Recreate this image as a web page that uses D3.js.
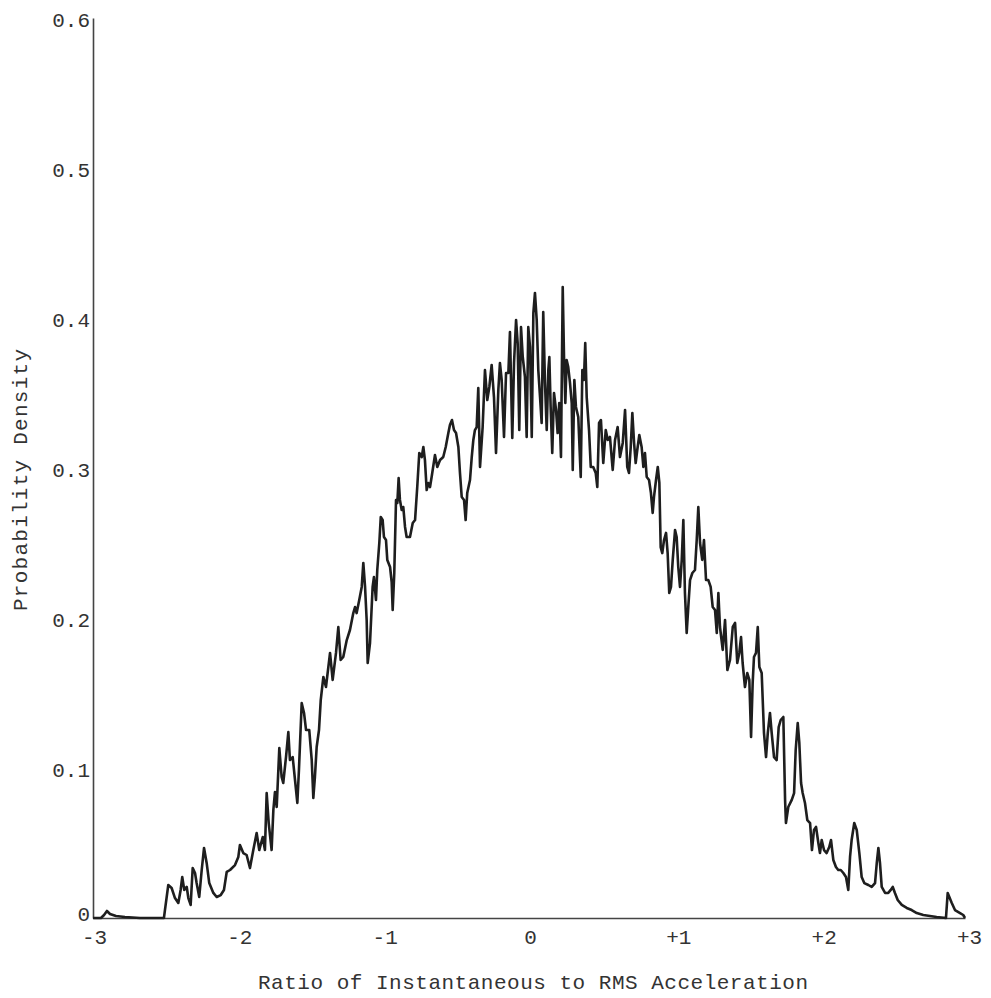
<!DOCTYPE html>
<html>
<head>
<meta charset="utf-8">
<script src="https://cdn.jsdelivr.net/npm/d3@7"></script>
<style>
  html, body { margin: 0; padding: 0; background: #ffffff; }
  svg { display: block; }
  text { font-family: "Liberation Mono", "DejaVu Sans Mono", monospace; fill: #333; }
</style>
</head>
<body>
<svg id="chart" width="991" height="998"></svg>
<script>
// Ratio of instantaneous to RMS acceleration (x) and probability density (y)
const ratioValues = [
  -3.000, -2.945, -2.924, -2.904, -2.883, -2.842, -2.780, -2.677, -2.512,
  -2.505, -2.482, -2.459, -2.436, -2.413, -2.397, -2.386, -2.372, -2.355, -2.344,
  -2.328, -2.314, -2.298, -2.287, -2.269, -2.252, -2.236, -2.218, -2.200, -2.172,
  -2.149, -2.121, -2.099, -2.080, -2.057, -2.023, -2.000, -1.989, -1.966, -1.943,
  -1.920, -1.897, -1.874, -1.856, -1.832, -1.817, -1.805, -1.791, -1.771, -1.759,
  -1.748, -1.736, -1.718, -1.702, -1.691, -1.672, -1.656, -1.645, -1.626, -1.610,
  -1.594, -1.583, -1.564, -1.548, -1.534, -1.512, -1.495, -1.484, -1.473, -1.461,
  -1.445, -1.433,
  -1.415, -1.397, -1.369, -1.351, -1.328, -1.312, -1.296, -1.278, -1.254, -1.232,
  -1.209, -1.197, -1.186, -1.168, -1.151, -1.140, -1.128, -1.117, -1.110, -1.094,
  -1.076, -1.067, -1.053, -1.044, -1.030, -1.020, -1.007, -0.998, -0.984, -0.975,
  -0.956, -0.945, -0.938, -0.927, -0.915, -0.906, -0.897, -0.888, -0.876, -0.865,
  -0.853, -0.842, -0.819, -0.800, -0.784, -0.769, -0.755, -0.738, -0.727, -0.716,
  -0.704, -0.693, -0.681, -0.670, -0.647, -0.631, -0.612, -0.590, -0.573, -0.555,
  -0.544, -0.530, -0.516, -0.502, -0.486, -0.475, -0.463, -0.447, -0.436, -0.425,
  -0.406, -0.394, -0.383, -0.372, -0.360,
  -0.349, -0.337, -0.319, -0.303, -0.287, -0.273, -0.257, -0.241, -0.227, -0.211,
  -0.200, -0.188, -0.172, -0.158, -0.142, -0.131, -0.115, -0.103, -0.089, -0.078,
  -0.067, -0.055, -0.043, -0.028, -0.016, -0.005, 0.007, 0.019, 0.030, 0.041,
  0.053, 0.064, 0.076, 0.087, 0.098, 0.110, 0.122, 0.133, 0.140, 0.149,
  0.160, 0.172, 0.186, 0.197, 0.208, 0.220, 0.232, 0.241, 0.250, 0.259,
  0.270, 0.282, 0.294, 0.301, 0.312, 0.323, 0.339, 0.356, 0.367, 0.378,
  0.387, 0.397, 0.413, 0.425, 0.442, 0.459, 0.470, 0.482, 0.495, 0.511,
  0.528, 0.542, 0.557, 0.576, 0.592, 0.610, 0.626, 0.645, 0.661, 0.676,
  0.688, 0.700, 0.711, 0.723, 0.734, 0.745, 0.759, 0.775, 0.787, 0.798,
  0.810, 0.826, 0.839, 0.851, 0.860, 0.874, 0.886, 0.897, 0.906, 0.917,
  0.929, 0.943, 0.954, 0.965, 0.977, 0.989, 1.005, 1.016, 1.027, 1.039,
  1.051, 1.062, 1.073, 1.085, 1.096, 1.108, 1.124, 1.142, 1.154, 1.165,
  1.177, 1.192, 1.204, 1.218, 1.234, 1.250, 1.264, 1.280, 1.292, 1.303,
  1.314, 1.333, 1.349, 1.365, 1.383, 1.402, 1.418, 1.433, 1.447, 1.459,
  1.470, 1.486, 1.502, 1.516, 1.528, 1.539, 1.548, 1.562, 1.574, 1.585,
  1.601, 1.617, 1.631, 1.643, 1.658, 1.670, 1.686, 1.704, 1.718, 1.732,
  1.750, 1.762, 1.768, 1.784, 1.808, 1.824, 1.835, 1.849, 1.860, 1.872,
  1.883, 1.899, 1.915, 1.934, 1.947, 1.961, 1.975, 1.991, 2.002, 2.014,
  2.030, 2.048, 2.066, 2.078, 2.094, 2.112, 2.128, 2.145, 2.163, 2.181,
  2.197, 2.209, 2.220, 2.238, 2.255, 2.273, 2.289, 2.307, 2.335, 2.358,
  2.381, 2.393, 2.404, 2.415, 2.427, 2.450, 2.472, 2.489, 2.503, 2.518,
  2.537, 2.565, 2.599, 2.633, 2.668, 2.713, 2.805, 2.869, 2.881, 2.909,
  2.931, 2.966, 2.988, 3.000
];
const densityValues = [
  0, 0, 0.0020, 0.0047, 0.0027, 0.0013, 0.0007, 0, 0,
  0.0053, 0.0220, 0.0200, 0.0133, 0.0100, 0.0187, 0.0273, 0.0187, 0.0207, 0.0133,
  0.0087, 0.0333, 0.0300, 0.0233, 0.0140, 0.0320, 0.0467, 0.0367, 0.0233, 0.0167,
  0.0140, 0.0153, 0.0187, 0.0307, 0.0320, 0.0353, 0.0407, 0.0487, 0.0433, 0.0420,
  0.0333, 0.0453, 0.0567, 0.0453, 0.0540, 0.0453, 0.0833, 0.0633, 0.0453, 0.0720,
  0.0840, 0.0740, 0.1133, 0.0940, 0.0900, 0.1073, 0.1240, 0.1053, 0.1073, 0.0920,
  0.0767, 0.0987, 0.1433, 0.1367, 0.1253, 0.1253, 0.1053, 0.0800, 0.0940, 0.1140,
  0.1253, 0.1453,
  0.1607, 0.1540, 0.1767, 0.1587, 0.1767, 0.1940, 0.1720, 0.1740, 0.1853, 0.1920,
  0.2033, 0.2073, 0.2033, 0.2120, 0.2207, 0.2367, 0.2207, 0.1987, 0.1700, 0.1833,
  0.2207, 0.2273, 0.2120, 0.2320, 0.2500, 0.2673, 0.2653, 0.2540, 0.2520, 0.2387,
  0.2340, 0.2240, 0.2053, 0.2300, 0.2787, 0.2767, 0.2933, 0.2787, 0.2720, 0.2740,
  0.2607, 0.2540, 0.2540, 0.2633, 0.2653, 0.2873, 0.3100, 0.3073, 0.3140, 0.3053,
  0.2853, 0.2900, 0.2873, 0.2940, 0.3087, 0.3007, 0.3053, 0.3073, 0.3140, 0.3233,
  0.3287, 0.3320, 0.3253, 0.3233, 0.3140, 0.2967, 0.2807, 0.2787, 0.2653, 0.2833,
  0.2920, 0.3073, 0.3187, 0.3253, 0.3273,
  0.3533, 0.3007, 0.3273, 0.3653, 0.3453, 0.3540, 0.3687, 0.3473, 0.3100, 0.3520,
  0.3700, 0.3587, 0.3207, 0.3633, 0.3633, 0.3907, 0.3200, 0.3700, 0.3987, 0.3833,
  0.3253, 0.3940, 0.3740, 0.3607, 0.3207, 0.3940, 0.3807, 0.3207, 0.4033, 0.4167,
  0.3987, 0.3653, 0.3473, 0.3300, 0.4040, 0.3567, 0.3253, 0.3653, 0.3740, 0.3407,
  0.3100, 0.3500, 0.3387, 0.3233, 0.3433, 0.3073, 0.4207, 0.3740, 0.3433, 0.3720,
  0.3673, 0.3567, 0.3433, 0.2987, 0.3587, 0.3407, 0.3340, 0.2940, 0.3653, 0.3587,
  0.3833, 0.3473, 0.3253, 0.3007, 0.3007, 0.2967, 0.2873, 0.3300, 0.3320, 0.3033,
  0.3253, 0.3187, 0.3207, 0.2987, 0.3187, 0.3273, 0.3073, 0.3167, 0.3387, 0.3007,
  0.2967, 0.3140, 0.3367, 0.3167, 0.3033, 0.3120, 0.3220, 0.3140, 0.3007, 0.3100,
  0.2940, 0.2920, 0.2833, 0.2700, 0.2807, 0.2920, 0.3007, 0.2900, 0.2473, 0.2433,
  0.2520, 0.2567, 0.2433, 0.2167, 0.2207, 0.2387, 0.2587, 0.2540, 0.2340, 0.2207,
  0.2387, 0.2653, 0.2167, 0.1900, 0.2073, 0.2253, 0.2300, 0.2320, 0.2520, 0.2740,
  0.2500, 0.2387, 0.2520, 0.2253, 0.2253, 0.2207, 0.2073, 0.2053, 0.1900, 0.2167,
  0.1940, 0.1787, 0.1987, 0.1653, 0.1720, 0.1940, 0.1967, 0.1700, 0.1767, 0.1873,
  0.1700, 0.1540, 0.1633, 0.1587, 0.1207, 0.1567, 0.1740, 0.1767, 0.1940, 0.1673,
  0.1633, 0.1233, 0.1073, 0.1233, 0.1367, 0.1233, 0.1073, 0.1053, 0.1273, 0.1320,
  0.1340, 0.0787, 0.0633, 0.0740, 0.0787, 0.0833, 0.1120, 0.1300, 0.1167, 0.0900,
  0.0833, 0.0767, 0.0653, 0.0633, 0.0453, 0.0587, 0.0607, 0.0500, 0.0433, 0.0520,
  0.0453, 0.0433, 0.0473, 0.0520, 0.0387, 0.0340, 0.0320, 0.0320, 0.0300, 0.0273,
  0.0187, 0.0407, 0.0520, 0.0633, 0.0587, 0.0433, 0.0273, 0.0233, 0.0220, 0.0207,
  0.0233, 0.0367, 0.0467, 0.0367, 0.0207, 0.0167, 0.0167, 0.0187, 0.0207, 0.0167,
  0.0120, 0.0087, 0.0067, 0.0053, 0.0033, 0.0020, 0.0007, 0, 0.0167, 0.0100,
  0.0053, 0.0033, 0.0020, 0
];
const xTickValues = [-3, -2, -1, 0, 1, 2, 3];
const xTickLabels = ["-3", "-2", "-1", "0", "+1", "+2", "+3"];
const yTickValues = [0, 0.1, 0.2, 0.3, 0.4, 0.5, 0.6];
const yTickLabels = ["0", "0.1", "0.2", "0.3", "0.4", "0.5", "0.6"];
const xTitle = "Ratio of Instantaneous to RMS Acceleration";
const yTitle = "Probability Density";

const svg = d3.select("#chart");
const x = d3.scaleLinear().domain([-3, 3]).range([93, 965]);
const y = d3.scaleLinear().domain([0, 0.6]).range([918, 18]);

const points = ratioValues.map((v, i) => [v, densityValues[i]]);

// Y axis
const yAxis = svg.append("g")
  .attr("transform", "translate(93,0)")
  .call(d3.axisLeft(y).tickValues(yTickValues).tickSize(0).tickSizeOuter(0).tickPadding(3)
    .tickFormat((d, i) => yTickLabels[i]));
yAxis.select(".domain").attr("stroke", "#444").attr("stroke-width", 1.6);
yAxis.selectAll("text")
  .style("font-family", '"Liberation Mono", monospace')
  .attr("font-size", 21).attr("fill", "#3a3a3a")
  .attr("dy", d => d === 0 ? "0.12em" : "0.4em");

// X axis
const xAxis = svg.append("g")
  .attr("transform", "translate(0,918)")
  .call(d3.axisBottom(x).tickValues(xTickValues).tickSize(0).tickSizeOuter(0).tickPadding(11)
    .tickFormat((d, i) => xTickLabels[i]));
xAxis.select(".domain").attr("stroke", "#444").attr("stroke-width", 1.6);
xAxis.selectAll("text")
  .style("font-family", '"Liberation Mono", monospace')
  .attr("font-size", 21).attr("fill", "#3a3a3a")
  .attr("dx", (d, i) => xTickLabels[i].startsWith("+") ? 4 : 1);

// Trace
const line = d3.line().x(d => x(d[0])).y(d => y(d[1]));
svg.append("path")
  .datum(points)
  .attr("d", line)
  .attr("fill", "none")
  .attr("stroke", "#1e1e1e")
  .attr("stroke-width", 2.6)
  .attr("stroke-linejoin", "round");

// Axis titles
svg.append("text")
  .attr("x", 533).attr("y", 989)
  .attr("text-anchor", "middle")
  .attr("font-size", 21).attr("fill", "#3a3a3a")
  .attr("textLength", 550).attr("lengthAdjust", "spacing")
  .text(xTitle);

svg.append("text")
  .attr("transform", "translate(27,480) rotate(-90)")
  .attr("text-anchor", "middle")
  .attr("font-size", 21).attr("fill", "#3a3a3a")
  .attr("textLength", 262).attr("lengthAdjust", "spacing")
  .text(yTitle);
</script>
</body>
</html>
